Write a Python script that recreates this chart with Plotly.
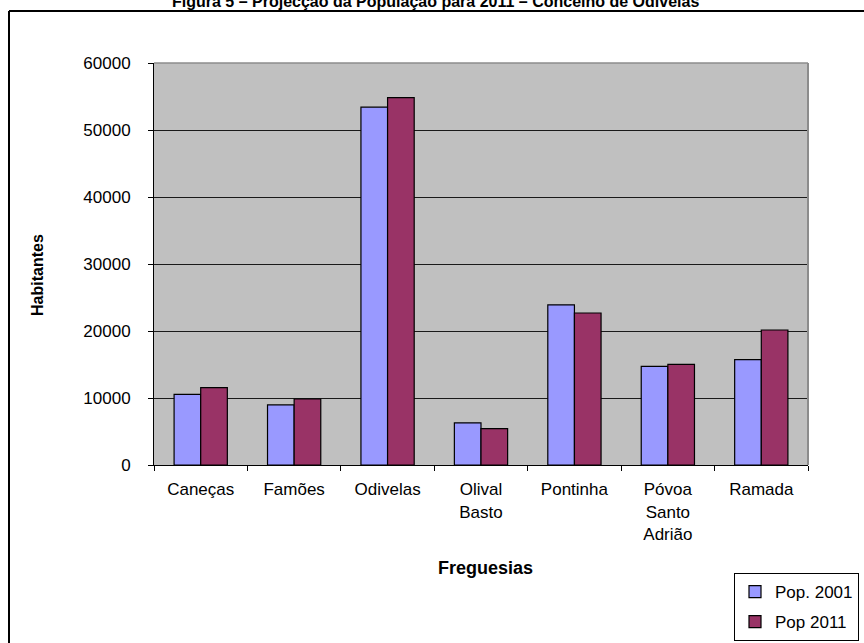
import plotly.graph_objects as go

# Freguesias do concelho e população (2001 e projecção 2011)
freguesias = ["Caneças", "Famões", "Odivelas", "Olival<br>Basto", "Pontinha",
              "Póvoa<br>Santo<br>Adrião", "Ramada"]
pop_2001 = [10550, 8960, 53400, 6300, 23900, 14730, 15720]
pop_2011 = [11540, 9850, 54820, 5420, 22690, 15030, 20150]
y_ticks = [0, 10000, 20000, 30000, 40000, 50000, 60000]

W, H = 864, 643
L, R, T, B = 154, 56, 63, 178
pw, ph = W - L - R, H - T - B


def px(x):
    return (x - L) / pw


def py(y):
    return (H - B - y) / ph


font = "Arial, Liberation Sans, sans-serif"

fig = go.Figure()
fig.add_trace(go.Bar(name="Pop. 2001", x=freguesias, y=pop_2001,
                     marker=dict(color="#9999FF", line=dict(color="#000000", width=1.2)),
                     legendgroup="a"))
fig.add_trace(go.Bar(name="Pop 2011", x=freguesias, y=pop_2011,
                     marker=dict(color="#993366", line=dict(color="#000000", width=1.2)),
                     legendgroup="b"))

fig.update_layout(
    width=W, height=H,
    margin=dict(l=L, r=R, t=T, b=B, autoexpand=False),
    paper_bgcolor="#FFFFFF", plot_bgcolor="#C0C0C0",
    barmode="group", bargap=0.43, bargroupgap=0,
    font=dict(family=font, size=17, color="#000000"),
    legend=dict(x=px(734), y=py(573), xanchor="left", yanchor="top",
                bordercolor="#000000", borderwidth=1, bgcolor="#FFFFFF",
                font=dict(size=17), traceorder="grouped", tracegroupgap=5,
                itemwidth=30),
    xaxis=dict(showline=True, linecolor="#000000", linewidth=1,
               ticks="outside", tickson="boundaries", ticklen=5, tickcolor="#000000",
               ticklabelstandoff=9, showgrid=False, automargin=False),
    yaxis=dict(range=[0, 60000], tickvals=y_ticks, ticktext=[str(v) for v in y_ticks],
               showline=True, linecolor="#000000", linewidth=1,
               ticks="outside", ticklen=5, tickcolor="#000000",
               ticklabelstandoff=14, showgrid=True, gridcolor="#1a1a1a", gridwidth=1,
               zeroline=False, automargin=False),
    showlegend=True,
)

# Bordas superior e direita da área de plotagem
fig.add_shape(type="line", xref="paper", yref="paper", x0=0, x1=1, y0=1, y1=1,
              line=dict(color="#8C8C8C", width=1.5), layer="above")
fig.add_shape(type="line", xref="paper", yref="paper", x0=1, x1=1, y0=0, y1=1,
              line=dict(color="#8C8C8C", width=2), layer="above")

# Moldura exterior do gráfico
fig.add_shape(type="line", xref="paper", yref="paper", x0=px(9), x1=px(870),
              y0=py(11), y1=py(11), line=dict(color="#000000", width=2))
fig.add_shape(type="line", xref="paper", yref="paper", x0=px(9), x1=px(9),
              y0=py(11), y1=py(650), line=dict(color="#000000", width=2))

fig.add_annotation(text="<b>Figura 5 – Projecção da População para 2011 – Concelho de Odivelas</b>",
                   xref="paper", yref="paper", x=px(435), y=py(12),
                   xanchor="center", yanchor="bottom", showarrow=False,
                   font=dict(family=font, size=16, color="#000000"))
fig.add_annotation(text="<b>Freguesias</b>", xref="paper", yref="paper",
                   x=px(485), y=py(568), xanchor="center", yanchor="middle",
                   showarrow=False, font=dict(family=font, size=18))
fig.add_annotation(text="<b>Habitantes</b>", xref="paper", yref="paper",
                   x=px(37), y=py(275), xanchor="center", yanchor="middle",
                   textangle=-90, showarrow=False, font=dict(family=font, size=16))

fig.write_html("out.html")
